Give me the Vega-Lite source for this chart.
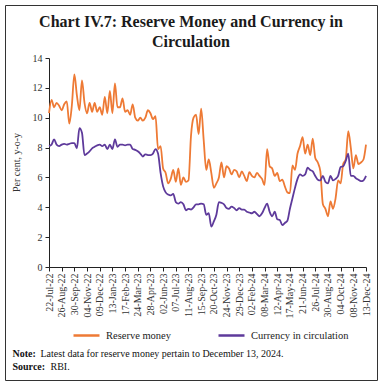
{
  "$schema": "https://vega.github.io/schema/vega-lite/v6.json",
  "width": 372,
  "height": 375,
  "autosize": {"type": "none"},
  "padding": 5,
  "background": "white",
  "title": {
    "text": ["Chart IV.7: Reserve Money and Currency in", "Circulation"],
    "font": "Liberation Serif",
    "fontSize": 16,
    "fontWeight": "bold",
    "color": "#1a1a1a",
    "anchor": "middle",
    "frame": "group",
    "lineHeight": 20,
    "offset": -45
  },
  "config": {
    "view": {"stroke": "#333333", "strokeWidth": 1},
    "axis": {"grid": false, "labelFont": "Liberation Serif", "titleFont": "Liberation Serif", "labelColor": "#333333", "titleColor": "#333333", "domainColor": "#222222", "tickColor": "#222222"}
  },
  "data": {
    "values": [
      {"d": "22-Jul-22", "rm": 10.3, "cic": 8.1},
      {"d": "29-Jul-22", "rm": 11.2, "cic": 8.2},
      {"d": "05-Aug-22", "rm": 10.7, "cic": 8.55},
      {"d": "12-Aug-22", "rm": 11.0, "cic": 8.2},
      {"d": "19-Aug-22", "rm": 10.8, "cic": 8.1},
      {"d": "26-Aug-22", "rm": 10.5, "cic": 8.2},
      {"d": "02-Sep-22", "rm": 10.9, "cic": 8.25},
      {"d": "09-Sep-22", "rm": 11.1, "cic": 8.2},
      {"d": "16-Sep-22", "rm": 9.6, "cic": 8.25},
      {"d": "23-Sep-22", "rm": 10.8, "cic": 8.3},
      {"d": "30-Sep-22", "rm": 12.9, "cic": 8.3},
      {"d": "07-Oct-22", "rm": 11.5, "cic": 7.95},
      {"d": "14-Oct-22", "rm": 10.5, "cic": 9.3},
      {"d": "21-Oct-22", "rm": 12.5, "cic": 9.0},
      {"d": "28-Oct-22", "rm": 11.0, "cic": 7.5},
      {"d": "04-Nov-22", "rm": 10.3, "cic": 7.6},
      {"d": "11-Nov-22", "rm": 11.0, "cic": 7.75},
      {"d": "18-Nov-22", "rm": 10.4, "cic": 7.95},
      {"d": "25-Nov-22", "rm": 11.0, "cic": 8.05},
      {"d": "02-Dec-22", "rm": 10.4, "cic": 8.15},
      {"d": "09-Dec-22", "rm": 10.7, "cic": 8.2},
      {"d": "16-Dec-22", "rm": 10.2, "cic": 8.1},
      {"d": "23-Dec-22", "rm": 11.4, "cic": 8.2},
      {"d": "30-Dec-22", "rm": 10.3, "cic": 7.9},
      {"d": "06-Jan-23", "rm": 11.8, "cic": 8.2},
      {"d": "13-Jan-23", "rm": 10.3, "cic": 7.9},
      {"d": "20-Jan-23", "rm": 12.3, "cic": 8.55},
      {"d": "27-Jan-23", "rm": 10.7, "cic": 8.05},
      {"d": "03-Feb-23", "rm": 10.7, "cic": 8.2},
      {"d": "10-Feb-23", "rm": 11.3, "cic": 8.2},
      {"d": "17-Feb-23", "rm": 10.4, "cic": 8.15},
      {"d": "24-Feb-23", "rm": 10.5, "cic": 8.2},
      {"d": "03-Mar-23", "rm": 10.2, "cic": 8.2},
      {"d": "10-Mar-23", "rm": 10.9, "cic": 7.9},
      {"d": "17-Mar-23", "rm": 10.0, "cic": 7.85},
      {"d": "24-Mar-23", "rm": 9.8, "cic": 7.75},
      {"d": "31-Mar-23", "rm": 10.0, "cic": 7.6},
      {"d": "07-Apr-23", "rm": 9.8, "cic": 7.4},
      {"d": "14-Apr-23", "rm": 10.0, "cic": 7.55},
      {"d": "21-Apr-23", "rm": 10.5, "cic": 7.5},
      {"d": "28-Apr-23", "rm": 10.3, "cic": 7.5},
      {"d": "05-May-23", "rm": 9.9, "cic": 7.6},
      {"d": "12-May-23", "rm": 10.1, "cic": 7.9},
      {"d": "19-May-23", "rm": 7.9, "cic": 7.6},
      {"d": "26-May-23", "rm": 8.1, "cic": 6.3},
      {"d": "02-Jun-23", "rm": 6.6, "cic": 5.4},
      {"d": "09-Jun-23", "rm": 6.3, "cic": 5.0},
      {"d": "16-Jun-23", "rm": 5.6, "cic": 4.85},
      {"d": "23-Jun-23", "rm": 5.9, "cic": 4.8},
      {"d": "30-Jun-23", "rm": 6.5, "cic": 4.9},
      {"d": "07-Jul-23", "rm": 5.7, "cic": 4.35},
      {"d": "14-Jul-23", "rm": 6.6, "cic": 4.25},
      {"d": "21-Jul-23", "rm": 5.5, "cic": 4.35},
      {"d": "28-Jul-23", "rm": 6.0, "cic": 4.2},
      {"d": "04-Aug-23", "rm": 5.7, "cic": 3.8},
      {"d": "11-Aug-23", "rm": 5.8, "cic": 3.9},
      {"d": "18-Aug-23", "rm": 8.8, "cic": 3.85},
      {"d": "25-Aug-23", "rm": 10.0, "cic": 4.0},
      {"d": "01-Sep-23", "rm": 10.2, "cic": 4.2},
      {"d": "08-Sep-23", "rm": 8.9, "cic": 4.2},
      {"d": "15-Sep-23", "rm": 10.6, "cic": 4.25},
      {"d": "22-Sep-23", "rm": 8.5, "cic": 4.2},
      {"d": "29-Sep-23", "rm": 6.5, "cic": 3.5},
      {"d": "06-Oct-23", "rm": 7.2, "cic": 3.6},
      {"d": "13-Oct-23", "rm": 6.3, "cic": 2.7},
      {"d": "20-Oct-23", "rm": 5.3, "cic": 3.05},
      {"d": "27-Oct-23", "rm": 5.6, "cic": 3.5},
      {"d": "03-Nov-23", "rm": 6.0, "cic": 4.35},
      {"d": "10-Nov-23", "rm": 7.0, "cic": 4.3},
      {"d": "17-Nov-23", "rm": 6.0, "cic": 4.2},
      {"d": "24-Nov-23", "rm": 6.75, "cic": 3.95},
      {"d": "01-Dec-23", "rm": 6.6, "cic": 3.9},
      {"d": "08-Dec-23", "rm": 6.2, "cic": 4.05},
      {"d": "15-Dec-23", "rm": 6.5, "cic": 3.95},
      {"d": "22-Dec-23", "rm": 6.4, "cic": 3.8},
      {"d": "29-Dec-23", "rm": 6.0, "cic": 3.95},
      {"d": "05-Jan-24", "rm": 6.4, "cic": 3.85},
      {"d": "12-Jan-24", "rm": 6.1, "cic": 3.85},
      {"d": "19-Jan-24", "rm": 5.75, "cic": 3.7},
      {"d": "26-Jan-24", "rm": 6.35, "cic": 3.65},
      {"d": "02-Feb-24", "rm": 6.1, "cic": 3.6},
      {"d": "09-Feb-24", "rm": 6.0, "cic": 3.7},
      {"d": "16-Feb-24", "rm": 6.3, "cic": 3.55},
      {"d": "23-Feb-24", "rm": 6.1, "cic": 3.4},
      {"d": "01-Mar-24", "rm": 5.9, "cic": 3.6},
      {"d": "08-Mar-24", "rm": 5.5, "cic": 3.95},
      {"d": "15-Mar-24", "rm": 7.9, "cic": 4.25},
      {"d": "22-Mar-24", "rm": 6.75, "cic": 3.7},
      {"d": "29-Mar-24", "rm": 6.6, "cic": 3.4},
      {"d": "05-Apr-24", "rm": 6.1, "cic": 3.7},
      {"d": "12-Apr-24", "rm": 6.3, "cic": 3.2},
      {"d": "19-Apr-24", "rm": 5.75, "cic": 3.15},
      {"d": "26-Apr-24", "rm": 5.85, "cic": 2.8},
      {"d": "03-May-24", "rm": 5.4, "cic": 2.95},
      {"d": "10-May-24", "rm": 5.0, "cic": 3.1},
      {"d": "17-May-24", "rm": 4.95, "cic": 3.9},
      {"d": "24-May-24", "rm": 6.8, "cic": 4.6},
      {"d": "31-May-24", "rm": 6.5, "cic": 5.3},
      {"d": "07-Jun-24", "rm": 7.6, "cic": 5.9},
      {"d": "14-Jun-24", "rm": 8.1, "cic": 6.2},
      {"d": "21-Jun-24", "rm": 8.7, "cic": 6.1},
      {"d": "28-Jun-24", "rm": 7.6, "cic": 6.2},
      {"d": "05-Jul-24", "rm": 8.2, "cic": 6.65},
      {"d": "12-Jul-24", "rm": 7.5, "cic": 6.5},
      {"d": "19-Jul-24", "rm": 8.6, "cic": 6.4},
      {"d": "26-Jul-24", "rm": 7.3, "cic": 6.1},
      {"d": "02-Aug-24", "rm": 7.0, "cic": 5.85},
      {"d": "09-Aug-24", "rm": 6.4, "cic": 5.8},
      {"d": "16-Aug-24", "rm": 4.2, "cic": 6.1},
      {"d": "23-Aug-24", "rm": 3.9, "cic": 5.7},
      {"d": "30-Aug-24", "rm": 3.4, "cic": 5.6},
      {"d": "06-Sep-24", "rm": 4.4, "cic": 6.1},
      {"d": "13-Sep-24", "rm": 3.9, "cic": 5.8},
      {"d": "20-Sep-24", "rm": 4.6, "cic": 5.9},
      {"d": "27-Sep-24", "rm": 5.8, "cic": 6.1},
      {"d": "04-Oct-24", "rm": 5.6, "cic": 6.7},
      {"d": "11-Oct-24", "rm": 6.9, "cic": 6.75},
      {"d": "18-Oct-24", "rm": 7.2, "cic": 7.1},
      {"d": "25-Oct-24", "rm": 9.1, "cic": 7.6},
      {"d": "01-Nov-24", "rm": 8.0, "cic": 6.1},
      {"d": "08-Nov-24", "rm": 6.6, "cic": 6.1},
      {"d": "15-Nov-24", "rm": 7.5, "cic": 5.95},
      {"d": "22-Nov-24", "rm": 6.9, "cic": 5.85},
      {"d": "29-Nov-24", "rm": 7.0, "cic": 5.75},
      {"d": "06-Dec-24", "rm": 7.2, "cic": 5.8},
      {"d": "13-Dec-24", "rm": 8.2, "cic": 6.1}
    ]
  },
  "transform": [{"fold": ["rm", "cic"], "as": ["series", "value"]}],
  "resolve": {"axis": {"x": "independent"}},
  "layer": [
    {
      "transform": [{"filter": "datum.series == 'rm'"}],
      "mark": {"type": "line", "strokeWidth": 1.8, "interpolate": "monotone"},
      "encoding": {
        "x": {
          "field": "d",
          "type": "ordinal",
          "sort": null,
          "scale": {"type": "point", "range": [44, 361], "padding": 0},
          "axis": {
            "orient": "bottom",
            "offset": -113,
            "values": ["22-Jul-22", "26-Aug-22", "30-Sep-22", "04-Nov-22", "09-Dec-22", "13-Jan-23", "17-Feb-23", "24-Mar-23", "28-Apr-23", "02-Jun-23", "07-Jul-23", "11-Aug-23", "15-Sep-23", "20-Oct-23", "24-Nov-23", "29-Dec-23", "02-Feb-24", "08-Mar-24", "12-Apr-24", "17-May-24", "21-Jun-24", "26-Jul-24", "30-Aug-24", "04-Oct-24", "08-Nov-24", "13-Dec-24"],
            "labelAngle": -90,
            "labelAlign": "right",
            "labelBaseline": "middle",
            "labelFontSize": 10,
            "labelPadding": 2,
            "tickSize": 4,
            "title": ["Note:", "Source:"],
            "titleFontSize": 10,
            "titleFontWeight": "bold",
            "titleColor": "#111111",
            "titleX": 7,
            "titleY": 89.5,
            "titleAlign": "left",
            "titleBaseline": "alphabetic",
            "titleLineHeight": 13
          }
        },
        "y": {
          "field": "value",
          "type": "quantitative",
          "scale": {"domain": [0, 14], "range": [262, 53], "nice": false, "zero": true},
          "axis": {
            "offset": -44,
            "values": [0, 2, 4, 6, 8, 10, 12, 14],
            "labelFontSize": 10,
            "labelPadding": 3,
            "tickSize": 4,
            "title": "Per cent, y-o-y",
            "titleFontSize": 10,
            "titleFontWeight": "normal",
            "titleX": -30,
            "titleY": 157,
            "titleBaseline": "alphabetic"
          }
        },
        "color": {
          "field": "series",
          "type": "nominal",
          "scale": {"domain": ["rm", "cic"], "range": ["#EE7A35", "#5E3A9B"]},
          "legend": {
            "orient": "none",
            "legendX": 67,
            "legendY": 316,
            "direction": "horizontal",
            "title": null,
            "symbolType": "stroke",
            "symbolSize": 676,
            "symbolStrokeWidth": 2.5,
            "labelFont": "Liberation Serif",
            "labelFontSize": 10.5,
            "labelColor": "#222222",
            "labelOffset": 5,
            "columnPadding": 41,
            "padding": 0,
            "labelExpr": "datum.label == 'rm' ? 'Reserve money' : 'Currency in circulation'"
          }
        }
      }
    },
    {
      "transform": [{"filter": "datum.series == 'cic'"}],
      "mark": {"type": "line", "strokeWidth": 1.8, "interpolate": "monotone"},
      "encoding": {
        "x": {
          "field": "d",
          "type": "ordinal",
          "sort": null,
          "scale": {"type": "point", "range": [44, 361], "padding": 0},
          "axis": {
            "orient": "bottom",
            "offset": -113,
            "labels": false,
            "ticks": false,
            "domain": false,
            "title": ["Latest data for reserve money pertain to December 13, 2024.", "\u200b\u00a0\u00a0\u00a0\u00a0RBI."],
            "titleFontSize": 10,
            "titleFontWeight": "normal",
            "titleColor": "#111111",
            "titleX": 35,
            "titleY": 89.5,
            "titleAlign": "left",
            "titleBaseline": "alphabetic",
            "titleLineHeight": 13
          }
        },
        "y": {
          "field": "value",
          "type": "quantitative",
          "scale": {"domain": [0, 14], "range": [262, 53], "nice": false, "zero": true}
        },
        "color": {
          "field": "series",
          "type": "nominal",
          "scale": {"domain": ["rm", "cic"], "range": ["#EE7A35", "#5E3A9B"]}
        }
      }
    }
  ]
}
